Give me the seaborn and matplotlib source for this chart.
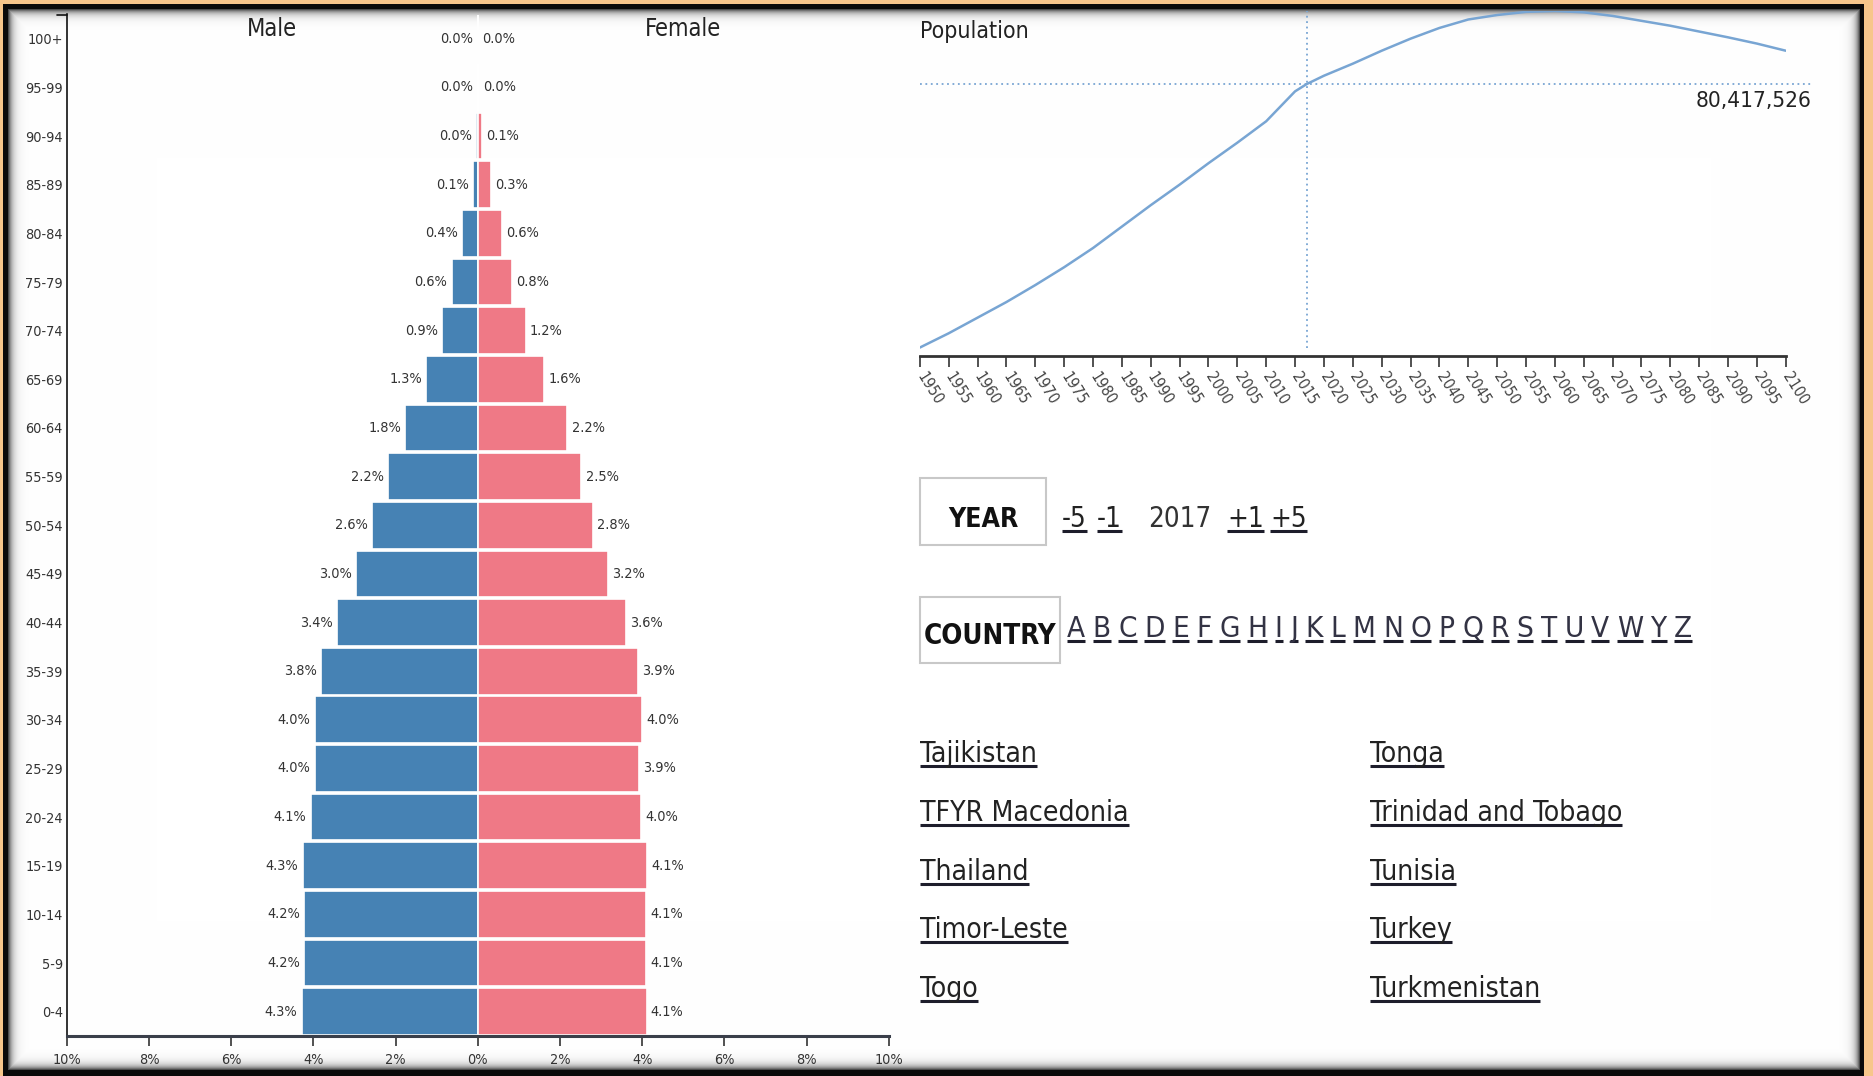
import numpy as np
import pandas as pd
import matplotlib.pyplot as plt
import seaborn as sns
from matplotlib import font_manager
from matplotlib.colors import to_rgb
from matplotlib.lines import Line2D
from matplotlib.patches import Rectangle

# ---- data ----
ages = ['100+', '95-99', '90-94', '85-89', '80-84', '75-79', '70-74', '65-69', '60-64',
        '55-59', '50-54', '45-49', '40-44', '35-39', '30-34', '25-29', '20-24', '15-19',
        '10-14', '5-9', '0-4']
male_pct = [0.004, 0.01, 0.04, 0.12, 0.38, 0.64, 0.87, 1.26, 1.76, 2.18, 2.57, 2.97, 3.42,
            3.81, 3.97, 3.97, 4.07, 4.26, 4.22, 4.23, 4.29]
female_pct = [0.01, 0.03, 0.10, 0.31, 0.60, 0.83, 1.17, 1.62, 2.18, 2.52, 2.81, 3.17, 3.60,
              3.89, 3.99, 3.92, 3.98, 4.12, 4.10, 4.10, 4.11]

years = [1950, 1955, 1960, 1965, 1970, 1975, 1980, 1985, 1990, 1995, 2000, 2005, 2010, 2015,
         2017, 2020, 2025, 2030, 2035, 2040, 2045, 2050, 2055, 2060, 2065, 2070, 2075, 2080,
         2085, 2090, 2095, 2100]
population_m = [21.4, 24.6, 28.1, 31.6, 35.4, 39.4, 43.7, 48.5, 53.3, 57.9, 62.7, 67.3, 72.1,
                78.8, 80.42, 82.3, 85.0, 87.9, 90.6, 93.0, 94.9, 95.9, 96.6, 96.8, 96.5, 95.7,
                94.6, 93.5, 92.2, 90.9, 89.5, 87.9]
current_year = 2017
current_pop = 80417526

year_steps_before = ['-5', '-1']
year_steps_after = ['+1', '+5']
letters = list('ABCDEFGHIJKLMNOPQRSTUVWYZ')
countries_left = ['Tajikistan', 'TFYR Macedonia', 'Thailand', 'Timor-Leste', 'Togo']
countries_right = ['Tonga', 'Trinidad and Tobago', 'Tunisia', 'Turkey', 'Turkmenistan']

MALE_C = '#4682B4'
FEMALE_C = '#EF7986'
LINE_C = '#78A5D3'

# ---- fonts ----
sns.set_theme(style='white')
ttf = font_manager.fontManager.ttflist
names = {f.name for f in ttf}
if 'Liberation Sans Narrow' in names:
    FONT, K = 'Liberation Sans Narrow', 1.0
elif any(f.name == 'DejaVu Sans' and f.stretch == 'condensed' for f in ttf):
    FONT, K = 'DejaVu Sans', 0.83
    plt.rcParams['font.stretch'] = 'condensed'
else:
    FONT, K = 'DejaVu Sans', 0.75
plt.rcParams['font.family'] = [FONT, 'DejaVu Sans']


def fs(pt):
    return pt * K


W, H = 1873, 1076
fig = plt.figure(figsize=(W / 100, H / 100), dpi=100)


def fx(x):
    return x / W


def fy(y):
    return 1 - y / H


# ---- frame background ----
yy, xx = np.mgrid[0:H, 0:W]
frame = np.empty((H, W, 3))
frame[:] = to_rgb('#F7C68B')
frame[(xx >= 3) & (xx < 1864) & (yy >= 4)] = 0.04
d = np.minimum.reduce([xx - 8, 1859 - xx, yy - 9, 1069 - yy]).astype(float)
inner = d >= 0
frame[inner] = (1 - 0.7 * np.exp(-d[inner] / 4.0))[:, None]
ax_bg = fig.add_axes([0, 0, 1, 1])
ax_bg.imshow(frame, aspect='auto', interpolation='nearest')
ax_bg.axis('off')

# ---- population pyramid ----
ax = fig.add_axes([fx(66.9), fy(1036), fx(888.7 - 66.9), (1036 - 14.5) / H])
ax.set_facecolor('none')
df = pd.DataFrame({
    'age': ages * 2,
    'pct': [-m for m in male_pct] + female_pct,
    'sex': ['Male'] * len(ages) + ['Female'] * len(ages),
})
sns.barplot(data=df, x='pct', y='age', hue='sex', order=ages, hue_order=['Male', 'Female'],
            palette={'Male': MALE_C, 'Female': FEMALE_C}, dodge=False, width=0.96,
            saturation=1, edgecolor='white', linewidth=1.2, errorbar=None, legend=False, ax=ax)
ax.set_xlim(-10, 10)
ax.set_ylim(len(ages) - 0.5, -0.5)
ax.set_xlabel('')
ax.set_ylabel('')
for i, (m, f) in enumerate(zip(male_pct, female_pct)):
    ax.annotate(f'{m:.1f}%', xy=(-m, i), xytext=(-3, 0), textcoords='offset points',
                ha='right', va='center', fontsize=fs(12.5), color='#333333')
    ax.annotate(f'{f:.1f}%', xy=(f, i), xytext=(3, 0), textcoords='offset points',
                ha='left', va='center', fontsize=fs(12.5), color='#333333')
ticks = np.arange(-10, 11, 2)
ax.set_xticks(ticks)
ax.set_xticklabels([f'{abs(t)}%' for t in ticks], fontsize=fs(12.5), color='#333333')
ax.tick_params(axis='x', bottom=True, length=7, width=1.2, color='#333333', pad=5)
ax.tick_params(axis='y', left=False, length=0, labelsize=fs(12.5), labelcolor='#333333', pad=3)
for s in ['top', 'right']:
    ax.spines[s].set_visible(False)
ax.spines['left'].set_color('#111111')
ax.spines['left'].set_linewidth(1.2)
ax.spines['bottom'].set_color('#3a3f4a')
ax.spines['bottom'].set_linewidth(2.2)
ax.plot([-0.012, 0], [1, 1], transform=ax.transAxes, color='#111111', lw=1.2, clip_on=False)
ax.text(-5, -0.05, 'Male', ha='center', va='baseline', fontsize=fs(20.5), color='#222222')
ax.text(5, -0.05, 'Female', ha='center', va='baseline', fontsize=fs(20.5), color='#222222')

# ---- population line ----
ax2 = fig.add_axes([fx(919.8), fy(356), fx(1785.8 - 919.8), (356 - 11) / H])
ax2.set_facecolor('none')
sns.lineplot(x=years, y=population_m, color=LINE_C, linewidth=1.8, ax=ax2)
pmin, pmax = min(population_m), max(population_m)
ax2.set_xlim(1950, 2100)
ax2.set_ylim(pmin - 0.025 * (pmax - pmin), pmax)
cur_m = current_pop / 1e6
ax2.plot([1950, 2104.5], [cur_m, cur_m], color=LINE_C, lw=1.3, ls=(0, (1, 2)), clip_on=False)
ax2.plot([current_year, current_year], [pmin, pmax], color=LINE_C, lw=1.3, ls=(0, (1, 2)))
ax2.annotate(f'{current_pop:,}', xy=(2104.5, cur_m), xytext=(0, -5), textcoords='offset points',
             ha='right', va='top', fontsize=fs(19.5), color='#222222', annotation_clip=False)
xt = list(range(1950, 2101, 5))
ax2.set_xticks(xt)
ax2.set_xticklabels([str(t) for t in xt], rotation=-58, ha='left', va='center',
                    rotation_mode='anchor', fontsize=fs(13.5), color='#444444')
ax2.tick_params(axis='x', bottom=True, length=8, width=1.2, color='#333333', pad=5)
ax2.set_yticks([])
for s in ['top', 'right', 'left']:
    ax2.spines[s].set_visible(False)
ax2.spines['bottom'].set_color('#333333')
ax2.spines['bottom'].set_linewidth(2)
fig.text(fx(920), fy(38), 'Population', ha='left', va='baseline', fontsize=fs(20), color='#222222')

# ---- controls ----
renderer = fig.canvas.get_renderer()


def link(x, y, s, size, **kw):
    t = fig.text(fx(x), fy(y), s, ha='left', va='baseline', fontsize=size,
                 color=kw.pop('color', '#222222'), **kw)
    bb = t.get_window_extent(renderer)
    fig.add_artist(Line2D([bb.x0 / W, bb.x1 / W], [fy(y + 4)] * 2, lw=2.2, color='#1d1d2b',
                          solid_capstyle='butt'))
    return bb


fig.add_artist(Rectangle((fx(920), fy(545)), fx(126), 67 / H, transform=fig.transFigure,
                         facecolor='white', edgecolor='#c8c8c8', lw=1.5))
fig.text(fx(983), fy(527), 'YEAR', ha='center', va='baseline', fontsize=fs(23),
         fontweight='bold', color='#111111')
link(1062, 527, year_steps_before[0], fs(24))
link(1097, 527, year_steps_before[1], fs(24))
fig.text(fx(1148), fy(527), str(current_year), ha='left', va='baseline', fontsize=fs(24),
         color='#333333')
link(1227, 527, year_steps_after[0], fs(24))
link(1270, 527, year_steps_after[1], fs(24))

fig.add_artist(Rectangle((fx(920), fy(663)), fx(140), 66 / H, transform=fig.transFigure,
                         facecolor='white', edgecolor='#c8c8c8', lw=1.5))
fig.text(fx(990), fy(644), 'COUNTRY', ha='center', va='baseline', fontsize=fs(24),
         fontweight='bold', color='#111111')
x = 1067
for L in letters:
    bb = link(x, 637, L, fs(25.5), color='#333344')
    x = bb.x1 + 7.5

row_y = [762, 821, 879.5, 938, 996.6]
for yv, name in zip(row_y, countries_left):
    link(920, yv, name, fs(24.5))
for yv, name in zip(row_y, countries_right):
    link(1370, yv, name, fs(24.5))

fig.savefig('out.png', dpi=100)
